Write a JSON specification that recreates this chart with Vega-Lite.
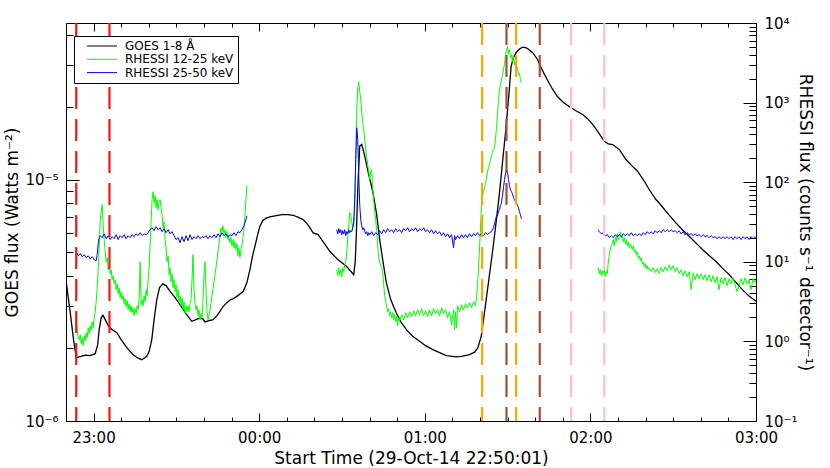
{
  "$schema": "https://vega.github.io/schema/vega-lite/v6.json",
  "width": 690,
  "height": 398,
  "autosize": {"type": "none"},
  "padding": {"left": 66, "top": 23, "right": 74, "bottom": 47},
  "background": "white",
  "config": {
    "font": "DejaVu Sans",
    "view": {"stroke": "black", "strokeWidth": 1},
    "axis": {"grid": false, "domain": false, "tickColor": "black", "tickWidth": 1, "labelColor": "black", "labelFontSize": 15, "titleFontSize": 17, "titleFontWeight": "normal", "titleColor": "black", "labelFlush": false, "labelOverlap": false, "labelBound": false}
  },
  "datasets": {
    "goes": [
      {"t":0,"v":3.85e-6},{"t":92,"v":2.815e-6},{"t":164,"v":2.175e-6},{"t":222,"v":1.831e-6},{"t":309,"v":1.848e-6},{"t":418,"v":1.875e-6},{"t":526,"v":1.866e-6},{"t":635,"v":1.902e-6},{"t":689,"v":2.073e-6},{"t":721,"v":2.392e-6},{"t":765,"v":2.683e-6},{"t":802,"v":2.743e-6},{"t":852,"v":2.633e-6},{"t":917,"v":2.486e-6},{"t":1003,"v":2.392e-6},{"t":1105,"v":2.325e-6},{"t":1199,"v":2.175e-6},{"t":1322,"v":2.014e-6},{"t":1459,"v":1.884e-6},{"t":1568,"v":1.822e-6},{"t":1648,"v":1.796e-6},{"t":1756,"v":1.854e-6},{"t":1806,"v":1.939e-6},{"t":1865,"v":2.175e-6},{"t":1915,"v":2.633e-6},{"t":1973,"v":3.187e-6},{"t":2034,"v":3.573e-6},{"t":2104,"v":3.702e-6},{"t":2175,"v":3.642e-6},{"t":2262,"v":3.45e-6},{"t":2371,"v":3.249e-6},{"t":2479,"v":3.038e-6},{"t":2609,"v":2.788e-6},{"t":2733,"v":2.591e-6},{"t":2826,"v":2.633e-6},{"t":2913,"v":2.676e-6},{"t":2978,"v":2.645e-6},{"t":3022,"v":2.576e-6},{"t":3108,"v":2.608e-6},{"t":3202,"v":2.633e-6},{"t":3282,"v":2.735e-6},{"t":3347,"v":2.85e-6},{"t":3412,"v":2.981e-6},{"t":3492,"v":3.088e-6},{"t":3564,"v":3.172e-6},{"t":3636,"v":3.218e-6},{"t":3738,"v":3.311e-6},{"t":3853,"v":3.45e-6},{"t":3933,"v":3.749e-6},{"t":3998,"v":4.244e-6},{"t":4052,"v":4.805e-6},{"t":4107,"v":5.303e-6},{"t":4161,"v":5.873e-6},{"t":4215,"v":6.42e-6},{"t":4280,"v":6.779e-6},{"t":4360,"v":6.956e-6},{"t":4454,"v":7.043e-6},{"t":4577,"v":7.11e-6},{"t":4692,"v":7.178e-6},{"t":4823,"v":7.178e-6},{"t":4938,"v":7.13e-6},{"t":5040,"v":7.008e-6},{"t":5155,"v":6.842e-6},{"t":5257,"v":6.522e-6},{"t":5372,"v":6.026e-6},{"t":5480,"v":5.929e-6},{"t":5604,"v":5.494e-6},{"t":5734,"v":5.053e-6},{"t":5908,"v":4.67e-6},{"t":6096,"v":4.381e-6},{"t":6255,"v":4.046e-6},{"t":6287,"v":4.581e-6},{"t":6313,"v":6.043e-6},{"t":6342,"v":9.117e-6},{"t":6385,"v":1.379e-5},{"t":6428,"v":1.401e-5},{"t":6494,"v":1.253e-5},{"t":6580,"v":1.052e-5},{"t":6674,"v":8.835e-6},{"t":6754,"v":7.178e-6},{"t":6819,"v":5.654e-6},{"t":6891,"v":4.581e-6},{"t":6964,"v":3.738e-6},{"t":7058,"v":3.187e-6},{"t":7181,"v":2.806e-6},{"t":7275,"v":2.582e-6},{"t":7398,"v":2.392e-6},{"t":7535,"v":2.248e-6},{"t":7687,"v":2.14e-6},{"t":7817,"v":2.053e-6},{"t":7976,"v":1.976e-6},{"t":8121,"v":1.92e-6},{"t":8266,"v":1.866e-6},{"t":8360,"v":1.857e-6},{"t":8483,"v":1.843e-6},{"t":8598,"v":1.854e-6},{"t":8772,"v":1.884e-6},{"t":8881,"v":1.93e-6},{"t":8952,"v":2.009e-6},{"t":9026,"v":2.244e-6},{"t":9076,"v":2.633e-6},{"t":9134,"v":3.187e-6},{"t":9206,"v":4.046e-6},{"t":9278,"v":5.138e-6},{"t":9351,"v":6.714e-6},{"t":9423,"v":8.835e-6},{"t":9495,"v":1.214e-5},{"t":9568,"v":1.669e-5},{"t":9618,"v":2.154e-5},{"t":9677,"v":2.96e-5},{"t":9727,"v":3.217e-5},{"t":9785,"v":3.365e-5},{"t":9857,"v":3.489e-5},{"t":9929,"v":3.55e-5},{"t":10009,"v":3.523e-5},{"t":10074,"v":3.456e-5},{"t":10146,"v":3.365e-5},{"t":10248,"v":3.156e-5},{"t":10363,"v":2.822e-5},{"t":10465,"v":2.595e-5},{"t":10580,"v":2.37e-5},{"t":10682,"v":2.216e-5},{"t":10812,"v":2.093e-5},{"t":10979,"v":1.99e-5},{"t":11094,"v":1.93e-5},{"t":11231,"v":1.866e-5},{"t":11333,"v":1.797e-5},{"t":11448,"v":1.697e-5},{"t":11571,"v":1.572e-5},{"t":11702,"v":1.446e-5},{"t":11788,"v":1.408e-5},{"t":11882,"v":1.401e-5},{"t":12027,"v":1.336e-5},{"t":12172,"v":1.214e-5},{"t":12287,"v":1.151e-5},{"t":12424,"v":1.086e-5},{"t":12548,"v":1.003e-5},{"t":12678,"v":9.117e-6},{"t":12823,"v":8.286e-6},{"t":12932,"v":7.861e-6},{"t":13040,"v":7.409e-6},{"t":13149,"v":7.008e-6},{"t":13257,"v":6.63e-6},{"t":13394,"v":6.22e-6},{"t":13546,"v":5.834e-6},{"t":13691,"v":5.478e-6},{"t":13835,"v":5.138e-6},{"t":13980,"v":4.852e-6},{"t":14125,"v":4.595e-6},{"t":14269,"v":4.305e-6},{"t":14414,"v":4.046e-6},{"t":14559,"v":3.767e-6},{"t":14703,"v":3.506e-6},{"t":14848,"v":3.295e-6},{"t":14999,"v":3.136e-6}
    ],
    "lo": [
      {"t":222,"v":2.3,"seg":1},{"t":244,"v":1.32,"seg":1},{"t":266,"v":1.11,"seg":1},{"t":287,"v":1.05,"seg":1},{"t":309,"v":1.21,"seg":1},{"t":331,"v":0.935,"seg":1},{"t":352,"v":1.11,"seg":1},{"t":374,"v":0.883,"seg":1},{"t":396,"v":1.18,"seg":1},{"t":418,"v":1.02,"seg":1},{"t":439,"v":1.28,"seg":1},{"t":461,"v":1.11,"seg":1},{"t":483,"v":1.49,"seg":1},{"t":504,"v":1.25,"seg":1},{"t":526,"v":1.57,"seg":1},{"t":548,"v":1.36,"seg":1},{"t":569,"v":1.77,"seg":1},{"t":591,"v":1.49,"seg":1},{"t":613,"v":1.98,"seg":1},{"t":635,"v":2.36,"seg":1},{"t":656,"v":3.15,"seg":1},{"t":678,"v":4.73,"seg":1},{"t":700,"v":7.96,"seg":1},{"t":721,"v":15.0,"seg":1},{"t":743,"v":31.9,"seg":1},{"t":765,"v":42.6,"seg":1},{"t":786,"v":52.2,"seg":1},{"t":808,"v":29.2,"seg":1},{"t":830,"v":19.0,"seg":1},{"t":852,"v":13.4,"seg":1},{"t":873,"v":10.0,"seg":1},{"t":895,"v":11.3,"seg":1},{"t":917,"v":7.96,"seg":1},{"t":938,"v":8.93,"seg":1},{"t":960,"v":7.09,"seg":1},{"t":982,"v":7.96,"seg":1},{"t":1003,"v":5.96,"seg":1},{"t":1025,"v":6.69,"seg":1},{"t":1047,"v":5.31,"seg":1},{"t":1069,"v":5.96,"seg":1},{"t":1090,"v":4.46,"seg":1},{"t":1112,"v":5.31,"seg":1},{"t":1134,"v":3.98,"seg":1},{"t":1155,"v":4.73,"seg":1},{"t":1177,"v":3.54,"seg":1},{"t":1199,"v":4.21,"seg":1},{"t":1220,"v":3.34,"seg":1},{"t":1242,"v":3.75,"seg":1},{"t":1264,"v":2.98,"seg":1},{"t":1286,"v":3.44,"seg":1},{"t":1307,"v":2.73,"seg":1},{"t":1329,"v":3.25,"seg":1},{"t":1351,"v":2.5,"seg":1},{"t":1372,"v":2.98,"seg":1},{"t":1394,"v":2.36,"seg":1},{"t":1416,"v":2.81,"seg":1},{"t":1437,"v":2.3,"seg":1},{"t":1459,"v":2.65,"seg":1},{"t":1481,"v":2.1,"seg":1},{"t":1503,"v":2.58,"seg":1},{"t":1524,"v":2.23,"seg":1},{"t":1546,"v":2.81,"seg":1},{"t":1568,"v":2.5,"seg":1},{"t":1589,"v":3.34,"seg":1},{"t":1611,"v":10.0,"seg":1},{"t":1633,"v":2.89,"seg":1},{"t":1654,"v":3.34,"seg":1},{"t":1676,"v":2.81,"seg":1},{"t":1698,"v":3.75,"seg":1},{"t":1720,"v":3.15,"seg":1},{"t":1741,"v":4.46,"seg":1},{"t":1763,"v":3.75,"seg":1},{"t":1785,"v":5.96,"seg":1},{"t":1806,"v":8.43,"seg":1},{"t":1828,"v":16.4,"seg":1},{"t":1850,"v":31.9,"seg":1},{"t":1871,"v":60.3,"seg":1},{"t":1893,"v":76.0,"seg":1},{"t":1915,"v":55.3,"seg":1},{"t":1937,"v":67.7,"seg":1},{"t":1958,"v":47.8,"seg":1},{"t":1980,"v":60.3,"seg":1},{"t":2002,"v":45.1,"seg":1},{"t":2023,"v":56.9,"seg":1},{"t":2045,"v":60.3,"seg":1},{"t":2067,"v":47.8,"seg":1},{"t":2088,"v":39.0,"seg":1},{"t":2110,"v":26.8,"seg":1},{"t":2132,"v":31.9,"seg":1},{"t":2154,"v":19.0,"seg":1},{"t":2175,"v":15.0,"seg":1},{"t":2197,"v":10.0,"seg":1},{"t":2219,"v":11.9,"seg":1},{"t":2240,"v":6.89,"seg":1},{"t":2262,"v":8.43,"seg":1},{"t":2284,"v":5.63,"seg":1},{"t":2305,"v":7.09,"seg":1},{"t":2327,"v":4.73,"seg":1},{"t":2349,"v":5.96,"seg":1},{"t":2371,"v":4.21,"seg":1},{"t":2392,"v":5.16,"seg":1},{"t":2414,"v":3.54,"seg":1},{"t":2436,"v":4.46,"seg":1},{"t":2457,"v":3.15,"seg":1},{"t":2479,"v":3.75,"seg":1},{"t":2501,"v":2.81,"seg":1},{"t":2522,"v":3.54,"seg":1},{"t":2544,"v":2.5,"seg":1},{"t":2566,"v":3.15,"seg":1},{"t":2588,"v":2.23,"seg":1},{"t":2609,"v":2.81,"seg":1},{"t":2631,"v":2.36,"seg":1},{"t":2653,"v":2.81,"seg":1},{"t":2674,"v":2.36,"seg":1},{"t":2696,"v":2.98,"seg":1},{"t":2718,"v":3.34,"seg":1},{"t":2739,"v":5.96,"seg":1},{"t":2761,"v":12.3,"seg":1},{"t":2783,"v":4.46,"seg":1},{"t":2805,"v":2.98,"seg":1},{"t":2826,"v":2.5,"seg":1},{"t":2848,"v":2.81,"seg":1},{"t":2870,"v":2.1,"seg":1},{"t":2891,"v":2.5,"seg":1},{"t":2913,"v":1.87,"seg":1},{"t":2935,"v":2.23,"seg":1},{"t":2956,"v":1.98,"seg":1},{"t":2978,"v":3.34,"seg":1},{"t":3000,"v":6.89,"seg":1},{"t":3022,"v":10.0,"seg":1},{"t":3043,"v":4.46,"seg":1},{"t":3065,"v":2.36,"seg":1},{"t":3087,"v":1.87,"seg":1},{"t":3108,"v":2.1,"seg":1},{"t":3130,"v":2.5,"seg":1},{"t":3152,"v":2.98,"seg":1},{"t":3173,"v":3.75,"seg":1},{"t":3195,"v":4.46,"seg":1},{"t":3217,"v":5.63,"seg":1},{"t":3239,"v":6.89,"seg":1},{"t":3260,"v":8.43,"seg":1},{"t":3282,"v":10.6,"seg":1},{"t":3304,"v":13.4,"seg":1},{"t":3325,"v":16.9,"seg":1},{"t":3347,"v":21.3,"seg":1},{"t":3369,"v":26.8,"seg":1},{"t":3390,"v":23.9,"seg":1},{"t":3412,"v":28.4,"seg":1},{"t":3434,"v":22.5,"seg":1},{"t":3456,"v":25.3,"seg":1},{"t":3477,"v":20.1,"seg":1},{"t":3499,"v":23.9,"seg":1},{"t":3521,"v":19.0,"seg":1},{"t":3542,"v":21.3,"seg":1},{"t":3564,"v":17.4,"seg":1},{"t":3586,"v":20.1,"seg":1},{"t":3607,"v":15.9,"seg":1},{"t":3629,"v":19.0,"seg":1},{"t":3651,"v":15.0,"seg":1},{"t":3673,"v":17.9,"seg":1},{"t":3694,"v":14.2,"seg":1},{"t":3716,"v":16.9,"seg":1},{"t":3738,"v":11.9,"seg":1},{"t":3759,"v":15.0,"seg":1},{"t":3781,"v":11.3,"seg":1},{"t":3803,"v":14.2,"seg":1},{"t":3824,"v":15.9,"seg":1},{"t":3846,"v":20.1,"seg":1},{"t":3868,"v":25.3,"seg":1},{"t":3890,"v":39.0,"seg":1},{"t":3911,"v":60.3,"seg":1},{"t":3933,"v":90.4,"seg":1},
      {"t":5886,"v":7.96,"seg":2},{"t":5908,"v":6.69,"seg":2},{"t":5929,"v":8.43,"seg":2},{"t":5951,"v":6.89,"seg":2},{"t":5973,"v":7.96,"seg":2},{"t":5994,"v":6.5,"seg":2},{"t":6016,"v":8.43,"seg":2},{"t":6038,"v":7.51,"seg":2},{"t":6060,"v":9.19,"seg":2},{"t":6081,"v":10.0,"seg":2},{"t":6103,"v":13.4,"seg":2},{"t":6125,"v":20.1,"seg":2},{"t":6146,"v":29.2,"seg":2},{"t":6168,"v":41.4,"seg":2},{"t":6190,"v":37.9,"seg":2},{"t":6211,"v":31.9,"seg":2},{"t":6233,"v":26.8,"seg":2},{"t":6255,"v":28.4,"seg":2},{"t":6277,"v":52.2,"seg":2},{"t":6298,"v":192,"seg":2},{"t":6320,"v":814,"seg":2},{"t":6342,"v":1540,"seg":2},{"t":6363,"v":1830,"seg":2},{"t":6385,"v":1370,"seg":2},{"t":6407,"v":1090,"seg":2},{"t":6428,"v":769,"seg":2},{"t":6450,"v":575,"seg":2},{"t":6472,"v":456,"seg":2},{"t":6494,"v":342,"seg":2},{"t":6515,"v":256,"seg":2},{"t":6537,"v":203,"seg":2},{"t":6559,"v":166,"seg":2},{"t":6580,"v":136,"seg":2},{"t":6602,"v":108,"seg":2},{"t":6624,"v":136,"seg":2},{"t":6645,"v":144,"seg":2},{"t":6667,"v":80.5,"seg":2},{"t":6689,"v":60.3,"seg":2},{"t":6711,"v":42.6,"seg":2},{"t":6732,"v":33.8,"seg":2},{"t":6754,"v":23.9,"seg":2},{"t":6776,"v":16.4,"seg":2},{"t":6797,"v":11.3,"seg":2},{"t":6819,"v":10.0,"seg":2},{"t":6841,"v":8.93,"seg":2},{"t":6862,"v":8.43,"seg":2},{"t":6884,"v":7.51,"seg":2},{"t":6906,"v":5.16,"seg":2},{"t":6928,"v":3.75,"seg":2},{"t":6949,"v":3.15,"seg":2},{"t":6971,"v":2.73,"seg":2},{"t":6993,"v":2.36,"seg":2},{"t":7014,"v":2.58,"seg":2},{"t":7036,"v":2.1,"seg":2},{"t":7058,"v":2.36,"seg":2},{"t":7079,"v":1.98,"seg":2},{"t":7101,"v":2.3,"seg":2},{"t":7123,"v":1.87,"seg":2},{"t":7145,"v":2.17,"seg":2},{"t":7166,"v":1.77,"seg":2},{"t":7188,"v":2.1,"seg":2},{"t":7210,"v":1.57,"seg":2},{"t":7231,"v":1.98,"seg":2},{"t":7253,"v":1.82,"seg":2},{"t":7296,"v":2.17,"seg":2},{"t":7340,"v":1.87,"seg":2},{"t":7383,"v":2.3,"seg":2},{"t":7427,"v":1.98,"seg":2},{"t":7470,"v":2.36,"seg":2},{"t":7513,"v":2.04,"seg":2},{"t":7557,"v":2.43,"seg":2},{"t":7600,"v":2.1,"seg":2},{"t":7643,"v":2.5,"seg":2},{"t":7687,"v":2.17,"seg":2},{"t":7730,"v":2.58,"seg":2},{"t":7774,"v":2.1,"seg":2},{"t":7817,"v":2.43,"seg":2},{"t":7860,"v":2.04,"seg":2},{"t":7904,"v":2.5,"seg":2},{"t":7947,"v":2.1,"seg":2},{"t":7991,"v":2.58,"seg":2},{"t":8034,"v":2.23,"seg":2},{"t":8077,"v":2.5,"seg":2},{"t":8121,"v":2.1,"seg":2},{"t":8164,"v":2.65,"seg":2},{"t":8208,"v":2.23,"seg":2},{"t":8251,"v":2.5,"seg":2},{"t":8294,"v":1.98,"seg":2},{"t":8338,"v":2.36,"seg":2},{"t":8381,"v":1.62,"seg":2},{"t":8425,"v":2.5,"seg":2},{"t":8447,"v":1.4,"seg":2},{"t":8468,"v":2.36,"seg":2},{"t":8490,"v":1.49,"seg":2},{"t":8512,"v":2.81,"seg":2},{"t":8555,"v":2.36,"seg":2},{"t":8598,"v":2.89,"seg":2},{"t":8642,"v":2.5,"seg":2},{"t":8685,"v":2.98,"seg":2},{"t":8729,"v":2.65,"seg":2},{"t":8772,"v":3.06,"seg":2},{"t":8815,"v":2.65,"seg":2},{"t":8859,"v":3.15,"seg":2},{"t":8902,"v":2.81,"seg":2},{"t":8924,"v":3.54,"seg":2},{"t":8946,"v":5.16,"seg":2},{"t":8967,"v":8.43,"seg":2},{"t":8989,"v":15.0,"seg":2},{"t":9011,"v":26.8,"seg":2},{"t":9032,"v":52.2,"seg":2},{"t":9054,"v":69.7,"seg":2},{"t":9076,"v":76.0,"seg":2},{"t":9098,"v":85.3,"seg":2},{"t":9119,"v":95.8,"seg":2},{"t":9141,"v":114,"seg":2},{"t":9163,"v":136,"seg":2},{"t":9184,"v":152,"seg":2},{"t":9206,"v":166,"seg":2},{"t":9228,"v":192,"seg":2},{"t":9249,"v":215,"seg":2},{"t":9271,"v":242,"seg":2},{"t":9293,"v":256,"seg":2},{"t":9315,"v":271,"seg":2},{"t":9336,"v":342,"seg":2},{"t":9358,"v":484,"seg":2},{"t":9380,"v":705,"seg":2},{"t":9401,"v":1090,"seg":2},{"t":9423,"v":1450,"seg":2},{"t":9445,"v":1680,"seg":2},{"t":9466,"v":1940,"seg":2},{"t":9488,"v":2180,"seg":2},{"t":9510,"v":2590,"seg":2},{"t":9532,"v":3080,"seg":2},{"t":9553,"v":3880,"seg":2},{"t":9575,"v":4620,"seg":2},{"t":9597,"v":5040,"seg":2},{"t":9618,"v":4120,"seg":2},{"t":9640,"v":4620,"seg":2},{"t":9662,"v":3670,"seg":2},{"t":9683,"v":4000,"seg":2},{"t":9705,"v":3270,"seg":2},{"t":9727,"v":3880,"seg":2},{"t":9749,"v":2990,"seg":2},{"t":9770,"v":3270,"seg":2},{"t":9792,"v":2590,"seg":2},{"t":9814,"v":2740,"seg":2},{"t":9835,"v":2240,"seg":2},{"t":9857,"v":2310,"seg":2},{"t":9879,"v":1940,"seg":2},{"t":9900,"v":1780,"seg":2},
      {"t":11571,"v":8.43,"seg":3},{"t":11593,"v":7.09,"seg":3},{"t":11615,"v":7.96,"seg":3},{"t":11636,"v":6.69,"seg":3},{"t":11658,"v":7.73,"seg":3},{"t":11680,"v":6.89,"seg":3},{"t":11702,"v":7.96,"seg":3},{"t":11723,"v":6.5,"seg":3},{"t":11745,"v":7.51,"seg":3},{"t":11767,"v":7.09,"seg":3},{"t":11788,"v":10.0,"seg":3},{"t":11810,"v":12.3,"seg":3},{"t":11832,"v":14.6,"seg":3},{"t":11853,"v":15.9,"seg":3},{"t":11875,"v":16.9,"seg":3},{"t":11897,"v":19.0,"seg":3},{"t":11919,"v":15.9,"seg":3},{"t":11940,"v":20.1,"seg":3},{"t":11962,"v":17.9,"seg":3},{"t":11984,"v":22.5,"seg":3},{"t":12005,"v":19.0,"seg":3},{"t":12027,"v":21.3,"seg":3},{"t":12049,"v":23.9,"seg":3},{"t":12070,"v":20.1,"seg":3},{"t":12092,"v":21.3,"seg":3},{"t":12114,"v":17.9,"seg":3},{"t":12136,"v":20.1,"seg":3},{"t":12157,"v":16.9,"seg":3},{"t":12179,"v":19.0,"seg":3},{"t":12201,"v":15.9,"seg":3},{"t":12222,"v":17.9,"seg":3},{"t":12244,"v":15.0,"seg":3},{"t":12266,"v":16.9,"seg":3},{"t":12287,"v":15.9,"seg":3},{"t":12309,"v":14.2,"seg":3},{"t":12331,"v":15.9,"seg":3},{"t":12353,"v":13.4,"seg":3},{"t":12374,"v":14.2,"seg":3},{"t":12396,"v":12.3,"seg":3},{"t":12418,"v":13.4,"seg":3},{"t":12439,"v":11.3,"seg":3},{"t":12461,"v":11.9,"seg":3},{"t":12483,"v":10.3,"seg":3},{"t":12504,"v":11.3,"seg":3},{"t":12526,"v":9.46,"seg":3},{"t":12548,"v":10.0,"seg":3},{"t":12570,"v":8.68,"seg":3},{"t":12591,"v":9.46,"seg":3},{"t":12613,"v":8.19,"seg":3},{"t":12635,"v":8.93,"seg":3},{"t":12656,"v":7.96,"seg":3},{"t":12678,"v":8.43,"seg":3},{"t":12721,"v":7.51,"seg":3},{"t":12765,"v":8.43,"seg":3},{"t":12808,"v":7.3,"seg":3},{"t":12851,"v":8.19,"seg":3},{"t":12895,"v":7.09,"seg":3},{"t":12938,"v":8.43,"seg":3},{"t":12982,"v":7.51,"seg":3},{"t":13025,"v":8.68,"seg":3},{"t":13068,"v":7.73,"seg":3},{"t":13112,"v":9.19,"seg":3},{"t":13155,"v":7.96,"seg":3},{"t":13199,"v":8.93,"seg":3},{"t":13242,"v":7.51,"seg":3},{"t":13285,"v":8.43,"seg":3},{"t":13329,"v":7.09,"seg":3},{"t":13372,"v":7.96,"seg":3},{"t":13416,"v":6.69,"seg":3},{"t":13459,"v":7.73,"seg":3},{"t":13502,"v":6.5,"seg":3},{"t":13546,"v":7.51,"seg":3},{"t":13589,"v":4.46,"seg":3},{"t":13633,"v":7.3,"seg":3},{"t":13676,"v":5.96,"seg":3},{"t":13719,"v":7.09,"seg":3},{"t":13763,"v":6.14,"seg":3},{"t":13806,"v":7.09,"seg":3},{"t":13850,"v":5.96,"seg":3},{"t":13893,"v":6.89,"seg":3},{"t":13936,"v":5.79,"seg":3},{"t":13980,"v":6.89,"seg":3},{"t":14023,"v":5.63,"seg":3},{"t":14067,"v":6.69,"seg":3},{"t":14110,"v":5.47,"seg":3},{"t":14153,"v":6.5,"seg":3},{"t":14197,"v":4.46,"seg":3},{"t":14240,"v":6.32,"seg":3},{"t":14284,"v":5.31,"seg":3},{"t":14327,"v":6.32,"seg":3},{"t":14370,"v":5.01,"seg":3},{"t":14414,"v":6.14,"seg":3},{"t":14457,"v":5.31,"seg":3},{"t":14501,"v":6.32,"seg":3},{"t":14544,"v":5.16,"seg":3},{"t":14587,"v":4.21,"seg":3},{"t":14631,"v":5.01,"seg":3},{"t":14674,"v":6.14,"seg":3},{"t":14718,"v":5.16,"seg":3},{"t":14761,"v":6.32,"seg":3},{"t":14804,"v":5.31,"seg":3},{"t":14848,"v":5.96,"seg":3},{"t":14891,"v":4.46,"seg":3},{"t":14935,"v":6.14,"seg":3},{"t":14978,"v":5.47,"seg":3},{"t":14999,"v":5.96,"seg":3}
    ],
    "hi": [
      {"t":222,"v":13.4,"seg":1},{"t":266,"v":11.9,"seg":1},{"t":309,"v":12.7,"seg":1},{"t":352,"v":11.6,"seg":1},{"t":396,"v":12.3,"seg":1},{"t":439,"v":11.3,"seg":1},{"t":483,"v":11.9,"seg":1},{"t":526,"v":10.9,"seg":1},{"t":569,"v":11.6,"seg":1},{"t":613,"v":10.6,"seg":1},{"t":656,"v":10.3,"seg":1},{"t":678,"v":12.3,"seg":1},{"t":700,"v":16.9,"seg":1},{"t":721,"v":20.1,"seg":1},{"t":743,"v":21.3,"seg":1},{"t":786,"v":20.1,"seg":1},{"t":830,"v":22.5,"seg":1},{"t":873,"v":19.5,"seg":1},{"t":917,"v":21.3,"seg":1},{"t":960,"v":19.0,"seg":1},{"t":1003,"v":20.7,"seg":1},{"t":1047,"v":19.5,"seg":1},{"t":1090,"v":21.9,"seg":1},{"t":1134,"v":19.0,"seg":1},{"t":1177,"v":21.3,"seg":1},{"t":1220,"v":20.1,"seg":1},{"t":1264,"v":21.9,"seg":1},{"t":1307,"v":19.5,"seg":1},{"t":1351,"v":21.3,"seg":1},{"t":1394,"v":20.1,"seg":1},{"t":1437,"v":21.9,"seg":1},{"t":1481,"v":20.7,"seg":1},{"t":1524,"v":22.5,"seg":1},{"t":1568,"v":21.3,"seg":1},{"t":1611,"v":23.2,"seg":1},{"t":1654,"v":21.3,"seg":1},{"t":1698,"v":22.5,"seg":1},{"t":1741,"v":21.9,"seg":1},{"t":1785,"v":23.2,"seg":1},{"t":1828,"v":25.3,"seg":1},{"t":1871,"v":26.8,"seg":1},{"t":1915,"v":24.6,"seg":1},{"t":1958,"v":27.6,"seg":1},{"t":2002,"v":25.3,"seg":1},{"t":2045,"v":26.8,"seg":1},{"t":2088,"v":23.9,"seg":1},{"t":2132,"v":26.1,"seg":1},{"t":2175,"v":23.2,"seg":1},{"t":2219,"v":25.3,"seg":1},{"t":2262,"v":22.5,"seg":1},{"t":2305,"v":23.9,"seg":1},{"t":2349,"v":21.3,"seg":1},{"t":2392,"v":19.0,"seg":1},{"t":2436,"v":20.1,"seg":1},{"t":2479,"v":17.4,"seg":1},{"t":2522,"v":20.7,"seg":1},{"t":2566,"v":17.9,"seg":1},{"t":2609,"v":21.3,"seg":1},{"t":2653,"v":18.4,"seg":1},{"t":2696,"v":21.9,"seg":1},{"t":2739,"v":19.0,"seg":1},{"t":2783,"v":20.7,"seg":1},{"t":2826,"v":19.5,"seg":1},{"t":2870,"v":21.3,"seg":1},{"t":2913,"v":19.5,"seg":1},{"t":2956,"v":20.7,"seg":1},{"t":3000,"v":20.1,"seg":1},{"t":3043,"v":21.3,"seg":1},{"t":3087,"v":19.5,"seg":1},{"t":3130,"v":21.3,"seg":1},{"t":3173,"v":20.1,"seg":1},{"t":3217,"v":21.9,"seg":1},{"t":3260,"v":20.1,"seg":1},{"t":3304,"v":22.5,"seg":1},{"t":3347,"v":20.7,"seg":1},{"t":3390,"v":23.2,"seg":1},{"t":3434,"v":21.3,"seg":1},{"t":3477,"v":22.5,"seg":1},{"t":3521,"v":20.7,"seg":1},{"t":3564,"v":21.9,"seg":1},{"t":3607,"v":21.3,"seg":1},{"t":3651,"v":23.2,"seg":1},{"t":3694,"v":21.3,"seg":1},{"t":3738,"v":23.9,"seg":1},{"t":3781,"v":23.2,"seg":1},{"t":3824,"v":25.3,"seg":1},{"t":3868,"v":28.4,"seg":1},{"t":3911,"v":33.8,"seg":1},{"t":3933,"v":37.9,"seg":1},
      {"t":5886,"v":25.3,"seg":2},{"t":5908,"v":22.5,"seg":2},{"t":5929,"v":26.1,"seg":2},{"t":5951,"v":23.2,"seg":2},{"t":5973,"v":25.3,"seg":2},{"t":5994,"v":21.9,"seg":2},{"t":6016,"v":24.6,"seg":2},{"t":6038,"v":22.5,"seg":2},{"t":6060,"v":25.3,"seg":2},{"t":6081,"v":21.3,"seg":2},{"t":6103,"v":23.9,"seg":2},{"t":6125,"v":22.5,"seg":2},{"t":6146,"v":25.3,"seg":2},{"t":6168,"v":23.2,"seg":2},{"t":6190,"v":24.6,"seg":2},{"t":6211,"v":23.9,"seg":2},{"t":6233,"v":26.8,"seg":2},{"t":6255,"v":31.9,"seg":2},{"t":6277,"v":60.3,"seg":2},{"t":6298,"v":192,"seg":2},{"t":6320,"v":484,"seg":2},{"t":6342,"v":342,"seg":2},{"t":6363,"v":124,"seg":2},{"t":6385,"v":52.2,"seg":2},{"t":6407,"v":33.8,"seg":2},{"t":6428,"v":28.4,"seg":2},{"t":6450,"v":25.3,"seg":2},{"t":6472,"v":26.8,"seg":2},{"t":6494,"v":23.9,"seg":2},{"t":6515,"v":22.5,"seg":2},{"t":6537,"v":23.9,"seg":2},{"t":6559,"v":21.3,"seg":2},{"t":6580,"v":23.2,"seg":2},{"t":6602,"v":21.9,"seg":2},{"t":6645,"v":23.9,"seg":2},{"t":6689,"v":21.3,"seg":2},{"t":6732,"v":23.2,"seg":2},{"t":6776,"v":21.9,"seg":2},{"t":6819,"v":24.6,"seg":2},{"t":6862,"v":22.5,"seg":2},{"t":6906,"v":25.3,"seg":2},{"t":6949,"v":23.2,"seg":2},{"t":6993,"v":26.1,"seg":2},{"t":7036,"v":23.9,"seg":2},{"t":7079,"v":25.3,"seg":2},{"t":7123,"v":23.2,"seg":2},{"t":7166,"v":26.1,"seg":2},{"t":7210,"v":23.9,"seg":2},{"t":7253,"v":25.3,"seg":2},{"t":7296,"v":23.2,"seg":2},{"t":7340,"v":26.1,"seg":2},{"t":7383,"v":24.6,"seg":2},{"t":7427,"v":26.8,"seg":2},{"t":7470,"v":23.9,"seg":2},{"t":7513,"v":26.1,"seg":2},{"t":7557,"v":24.6,"seg":2},{"t":7600,"v":26.8,"seg":2},{"t":7643,"v":23.9,"seg":2},{"t":7687,"v":26.1,"seg":2},{"t":7730,"v":24.6,"seg":2},{"t":7774,"v":26.8,"seg":2},{"t":7817,"v":23.9,"seg":2},{"t":7860,"v":25.3,"seg":2},{"t":7904,"v":23.2,"seg":2},{"t":7947,"v":25.3,"seg":2},{"t":7991,"v":22.5,"seg":2},{"t":8034,"v":24.6,"seg":2},{"t":8077,"v":22.5,"seg":2},{"t":8121,"v":23.9,"seg":2},{"t":8164,"v":21.3,"seg":2},{"t":8208,"v":23.2,"seg":2},{"t":8251,"v":20.7,"seg":2},{"t":8294,"v":22.5,"seg":2},{"t":8338,"v":20.1,"seg":2},{"t":8381,"v":21.9,"seg":2},{"t":8425,"v":15.0,"seg":2},{"t":8447,"v":21.3,"seg":2},{"t":8468,"v":19.0,"seg":2},{"t":8512,"v":21.3,"seg":2},{"t":8555,"v":19.5,"seg":2},{"t":8598,"v":21.9,"seg":2},{"t":8642,"v":20.1,"seg":2},{"t":8685,"v":21.9,"seg":2},{"t":8729,"v":20.1,"seg":2},{"t":8772,"v":22.5,"seg":2},{"t":8815,"v":20.7,"seg":2},{"t":8859,"v":22.5,"seg":2},{"t":8902,"v":21.3,"seg":2},{"t":8946,"v":23.2,"seg":2},{"t":8989,"v":21.3,"seg":2},{"t":9032,"v":22.5,"seg":2},{"t":9076,"v":21.3,"seg":2},{"t":9119,"v":23.2,"seg":2},{"t":9163,"v":21.9,"seg":2},{"t":9206,"v":23.2,"seg":2},{"t":9249,"v":23.9,"seg":2},{"t":9293,"v":26.8,"seg":2},{"t":9315,"v":30.1,"seg":2},{"t":9336,"v":33.8,"seg":2},{"t":9358,"v":37.9,"seg":2},{"t":9380,"v":37.9,"seg":2},{"t":9401,"v":42.6,"seg":2},{"t":9423,"v":45.1,"seg":2},{"t":9445,"v":50.7,"seg":2},{"t":9466,"v":55.3,"seg":2},{"t":9488,"v":67.7,"seg":2},{"t":9510,"v":85.3,"seg":2},{"t":9532,"v":108,"seg":2},{"t":9553,"v":128,"seg":2},{"t":9575,"v":144,"seg":2},{"t":9597,"v":136,"seg":2},{"t":9618,"v":108,"seg":2},{"t":9640,"v":90.4,"seg":2},{"t":9662,"v":80.5,"seg":2},{"t":9683,"v":76.0,"seg":2},{"t":9705,"v":71.7,"seg":2},{"t":9727,"v":63.9,"seg":2},{"t":9749,"v":60.3,"seg":2},{"t":9770,"v":56.9,"seg":2},{"t":9792,"v":55.3,"seg":2},{"t":9814,"v":50.7,"seg":2},{"t":9835,"v":47.8,"seg":2},{"t":9857,"v":42.6,"seg":2},{"t":9879,"v":39.0,"seg":2},{"t":9900,"v":34.8,"seg":2},
      {"t":11571,"v":25.3,"seg":3},{"t":11593,"v":23.9,"seg":3},{"t":11636,"v":22.5,"seg":3},{"t":11680,"v":23.2,"seg":3},{"t":11723,"v":21.3,"seg":3},{"t":11767,"v":21.9,"seg":3},{"t":11810,"v":20.1,"seg":3},{"t":11853,"v":21.3,"seg":3},{"t":11897,"v":20.1,"seg":3},{"t":11940,"v":21.9,"seg":3},{"t":11984,"v":20.7,"seg":3},{"t":12027,"v":21.9,"seg":3},{"t":12070,"v":20.7,"seg":3},{"t":12114,"v":22.5,"seg":3},{"t":12157,"v":21.3,"seg":3},{"t":12201,"v":22.5,"seg":3},{"t":12244,"v":21.3,"seg":3},{"t":12287,"v":23.2,"seg":3},{"t":12331,"v":21.3,"seg":3},{"t":12374,"v":22.5,"seg":3},{"t":12418,"v":21.3,"seg":3},{"t":12461,"v":22.5,"seg":3},{"t":12504,"v":21.3,"seg":3},{"t":12548,"v":23.2,"seg":3},{"t":12591,"v":21.9,"seg":3},{"t":12635,"v":23.9,"seg":3},{"t":12678,"v":22.5,"seg":3},{"t":12721,"v":23.9,"seg":3},{"t":12765,"v":22.5,"seg":3},{"t":12808,"v":24.6,"seg":3},{"t":12851,"v":23.2,"seg":3},{"t":12895,"v":24.6,"seg":3},{"t":12938,"v":23.2,"seg":3},{"t":12982,"v":25.3,"seg":3},{"t":13025,"v":23.9,"seg":3},{"t":13068,"v":25.3,"seg":3},{"t":13112,"v":23.9,"seg":3},{"t":13155,"v":25.3,"seg":3},{"t":13199,"v":23.9,"seg":3},{"t":13242,"v":24.6,"seg":3},{"t":13285,"v":23.2,"seg":3},{"t":13329,"v":24.6,"seg":3},{"t":13372,"v":22.5,"seg":3},{"t":13416,"v":23.9,"seg":3},{"t":13459,"v":21.9,"seg":3},{"t":13502,"v":23.2,"seg":3},{"t":13546,"v":21.9,"seg":3},{"t":13589,"v":22.5,"seg":3},{"t":13633,"v":21.3,"seg":3},{"t":13676,"v":22.5,"seg":3},{"t":13719,"v":21.3,"seg":3},{"t":13763,"v":21.9,"seg":3},{"t":13806,"v":20.7,"seg":3},{"t":13850,"v":21.9,"seg":3},{"t":13893,"v":20.7,"seg":3},{"t":13936,"v":21.3,"seg":3},{"t":13980,"v":20.1,"seg":3},{"t":14023,"v":21.3,"seg":3},{"t":14067,"v":20.1,"seg":3},{"t":14110,"v":20.7,"seg":3},{"t":14153,"v":19.5,"seg":3},{"t":14197,"v":20.7,"seg":3},{"t":14240,"v":19.5,"seg":3},{"t":14284,"v":20.7,"seg":3},{"t":14327,"v":19.5,"seg":3},{"t":14370,"v":20.7,"seg":3},{"t":14414,"v":19.5,"seg":3},{"t":14457,"v":20.7,"seg":3},{"t":14501,"v":19.0,"seg":3},{"t":14544,"v":20.7,"seg":3},{"t":14587,"v":19.5,"seg":3},{"t":14631,"v":20.7,"seg":3},{"t":14674,"v":19.0,"seg":3},{"t":14718,"v":20.7,"seg":3},{"t":14761,"v":19.5,"seg":3},{"t":14804,"v":20.7,"seg":3},{"t":14848,"v":19.0,"seg":3},{"t":14891,"v":20.7,"seg":3},{"t":14935,"v":19.5,"seg":3},{"t":14978,"v":20.7,"seg":3},{"t":14999,"v":20.1,"seg":3}
    ],
    "intervals": [
      {"t":222,"grp":"1"},{"t":945,"grp":"1"},{"t":9045,"grp":"2"},{"t":9785,"grp":"2"},{"t":9575,"grp":"3"},{"t":10298,"grp":"3"},{"t":10979,"grp":"4"},{"t":11702,"grp":"4"}
    ]
  },
  "layer": [
    {
      "data": {"name": "goes"},
      "mark": {"type": "line", "strokeWidth": 1.3, "clip": true},
      "encoding": {
        "x": {"field": "t", "type": "quantitative", "scale": {"domain": [0, 14999], "nice": false, "zero": false},
          "axis": {"orient": "bottom", "values": [599,1199,1799,2399,2999,3599,4199,4799,5399,5999,6599,7199,7799,8399,8999,9599,10199,10799,11399,11999,12599,13199,13799,14399,14999],
            "labelExpr": "(datum.value - 599) % 3600 == 0 ? ['23:00','00:00','01:00','02:00','03:00'][(datum.value - 599) / 3600] : ''",
            "tickSize": {"condition": {"test": "(datum.value - 599) % 3600 == 0", "value": -8}, "value": -4},
            "labelPadding": 17, "title": "Start Time (29-Oct-14 22:50:01)", "titlePadding": 1}},
        "y": {"field": "v", "type": "quantitative", "scale": {"type": "log", "domain": [1e-6, 4.47e-5], "nice": false},
          "axis": {"orient": "left", "values": [1e-6,2e-6,3e-6,4e-6,5e-6,6e-6,7e-6,8e-6,9e-6,1e-5,2e-5,3e-5,4e-5],
            "labelExpr": "abs(log(datum.value)/LN10 - round(log(datum.value)/LN10)) < 0.001 ? (round(log(datum.value)/LN10) == -6 ? '10⁻⁶' : '10⁻⁵') : ''",
            "tickSize": {"condition": {"test": "abs(log(datum.value)/LN10 - round(log(datum.value)/LN10)) < 0.001", "value": -13}, "value": -7},
            "labelPadding": 21, "title": "GOES flux (Watts m⁻²)", "titlePadding": 3}},
        "color": {"datum": "GOES 1-8 Å", "type": "nominal",
          "scale": {"domain": ["GOES 1-8 Å", "RHESSI 12-25 keV", "RHESSI 25-50 keV"], "range": ["black", "#00ff00", "#0000ff"]},
          "legend": {"orient": "none", "legendX": 8, "legendY": 13, "title": null, "strokeColor": "black", "fillColor": "white", "padding": 4, "rowPadding": 1.3,
            "symbolType": "M-3,0H3", "symbolSize": 100, "symbolStrokeWidth": 1, "symbolOffset": 18, "labelOffset": 17, "labelFontSize": 12, "labelColor": "black"}}
      }
    },
    {
      "encoding": {
        "x": {"field": "t", "type": "quantitative", "scale": {"domain": [0, 14999], "nice": false, "zero": false},
          "axis": {"orient": "top", "values": [599,1199,1799,2399,2999,3599,4199,4799,5399,5999,6599,7199,7799,8399,8999,9599,10199,10799,11399,11999,12599,13199,13799,14399,14999],
            "labels": false, "title": null,
            "tickSize": {"condition": {"test": "(datum.value - 599) % 3600 == 0", "value": -8}, "value": -4}}},
        "y": {"field": "v", "type": "quantitative", "scale": {"type": "log", "domain": [0.1, 10000], "nice": false},
          "axis": {"orient": "right", "values": [0.1,0.2,0.3,0.4,0.5,0.6,0.7,0.8,0.9,1,2,3,4,5,6,7,8,9,10,20,30,40,50,60,70,80,90,100,200,300,400,500,600,700,800,900,1000,2000,3000,4000,5000,6000,7000,8000,9000,10000],
            "labelExpr": "abs(log(datum.value)/LN10 - round(log(datum.value)/LN10)) < 0.001 ? ['10⁻¹','10⁰','10¹','10²','10³','10⁴'][round(log(datum.value)/LN10) + 1] : ''",
            "tickSize": {"condition": {"test": "abs(log(datum.value)/LN10 - round(log(datum.value)/LN10)) < 0.001", "value": -13}, "value": -7},
            "labelPadding": 21, "title": "RHESSI flux (counts s⁻¹ detector⁻¹)", "titlePadding": -2}}
      },
      "layer": [
        {
          "data": {"name": "lo"},
          "mark": {"type": "line", "strokeWidth": 1, "clip": true},
          "encoding": {
            "detail": {"field": "seg", "type": "nominal"},
            "color": {"datum": "RHESSI 12-25 keV", "type": "nominal",
              "scale": {"domain": ["GOES 1-8 Å", "RHESSI 12-25 keV", "RHESSI 25-50 keV"], "range": ["black", "#00ff00", "#0000ff"]}}
          }
        },
        {
          "data": {"name": "hi"},
          "mark": {"type": "line", "strokeWidth": 1, "clip": true},
          "encoding": {
            "detail": {"field": "seg", "type": "nominal"},
            "color": {"datum": "RHESSI 25-50 keV", "type": "nominal",
              "scale": {"domain": ["GOES 1-8 Å", "RHESSI 12-25 keV", "RHESSI 25-50 keV"], "range": ["black", "#00ff00", "#0000ff"]}}
          }
        }
      ]
    },
    {
      "data": {"name": "intervals"},
      "mark": {"type": "rule", "strokeWidth": 2.2, "strokeDash": [22, 10]},
      "encoding": {
        "x": {"field": "t", "type": "quantitative", "scale": {"domain": [0, 14999], "nice": false, "zero": false}, "axis": null},
        "stroke": {"field": "grp", "type": "nominal", "scale": {"domain": ["1", "2", "3", "4"], "range": ["#f01818", "#ffa500", "#a0522d", "#ffc0cb"]}, "legend": null}
      }
    }
  ],
  "resolve": {"scale": {"y": "independent"}, "axis": {"x": "independent", "y": "independent"}}
}
